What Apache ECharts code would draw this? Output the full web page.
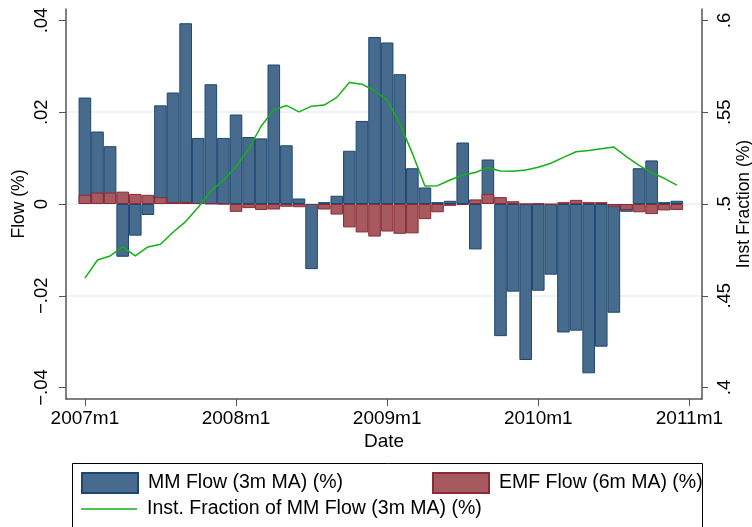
<!DOCTYPE html>
<html><head><meta charset="utf-8">
<script src="https://cdn.jsdelivr.net/npm/echarts@6/dist/echarts.min.js"></script>
<style>html,body{margin:0;padding:0;background:#fff}#c{width:752px;height:527px}</style>
</head><body><div id="c"></div>
<script>
// month index 0 = 2007m1 ... 47 = 2010m12
const monthIndex = [0,1,2,3,4,5,6,7,8,9,10,11,12,13,14,15,16,17,18,19,20,21,22,23,
  24,25,26,27,28,29,30,31,32,33,34,35,36,37,38,39,40,41,42,43,44,45,46,47];
const mmFlow = [0.0232,0.0158,0.0126,-0.0115,-0.0069,-0.0024,0.0215,0.0243,0.0394,0.0144,0.0261,0.0144,
  0.0195,0.0146,0.0143,0.0304,0.0128,0.0012,-0.0142,0.0004,0.0018,0.0116,0.0181,0.0364,
  0.0352,0.0283,0.0078,0.0036,0.0004,0.0007,0.0134,-0.0099,0.0097,-0.0288,-0.0191,-0.0340,
  -0.0189,-0.0154,-0.0280,-0.0276,-0.0369,-0.0311,-0.0237,-0.0017,0.0078,0.0095,0.0004,0.0007];
const emfFlow = [0.0020,0.0025,0.0025,0.0027,0.0022,0.0020,0.0015,0.0004,0.0004,0.0002,0.0001,0.0000,
  -0.0017,-0.0009,-0.0013,-0.0012,-0.0006,-0.0007,-0.0002,-0.0012,-0.0023,-0.0051,-0.0062,-0.0071,
  -0.0060,-0.0065,-0.0064,-0.0033,-0.0018,-0.0004,-0.0002,0.0010,0.0022,0.0015,0.0006,0.0000,
  0.0001,-0.0001,0.0004,0.0009,0.0004,0.0004,-0.0006,-0.0013,-0.0018,-0.0022,-0.0014,-0.0013];
const instFrac = [0.4596,0.4695,0.4717,0.4766,0.4717,0.4766,0.4781,0.4846,0.4904,0.4982,0.5071,0.5131,
  0.5203,0.5299,0.5425,0.5512,0.5537,0.5502,0.5533,0.5539,0.5581,0.5662,0.5653,0.5617,
  0.5566,0.5439,0.5276,0.5098,0.5100,0.5131,0.5158,0.5172,0.5198,0.5180,0.5178,0.5185,
  0.5200,0.5222,0.5254,0.5285,0.5292,0.5301,0.5310,0.5258,0.5211,0.5171,0.5140,0.5103];
const xTickValues = [0,12,24,36,48];
const xTickLabels = ['2007m1','2008m1','2009m1','2010m1','2011m1'];
const leftTicks = [-0.04,-0.02,0,0.02,0.04];
const leftTickLabels = ['\u2212.04','\u2212.02','0','.02','.04'];
const rightTicks = [0.4,0.45,0.5,0.55,0.6];
const rightTickLabels = ['.4','.45','.5','.55','.6'];
const names = ['MM Flow (3m MA) (%)','EMF Flow (6m MA) (%)','Inst. Fraction of MM Flow (3m MA) (%)'];

const FONT = 'Liberation Sans';
const chart = echarts.init(document.getElementById('c'), null, {renderer:'canvas'});
const pair = arr => monthIndex.map((m,i)=>[m,arr[i]]);
const lblIdx = (vals, labels) => v => { const i = vals.findIndex(t=>Math.abs(t-v)<1e-9); return i>=0?labels[i]:''; };
const axisCol = '#555';
const legTxt = {fontSize:19.5,color:'#000',fontFamily:FONT,padding:[0,0,0,5]};
chart.setOption({
  animation:false,
  backgroundColor:'#fff',
  textStyle:{fontFamily:FONT},
  grid:{left:66,right:50,top:9,bottom:128,outerBoundsMode:'none',containLabel:false},
  legend:[
    {data:[{name:names[0],icon:'rect'}],left:76,top:467,itemWidth:56,itemHeight:20,textStyle:legTxt},
    {data:[{name:names[1],icon:'rect'}],left:427,top:467,itemWidth:56,itemHeight:20,textStyle:legTxt},
    {data:[{name:names[2],icon:'path://M0,0 L56,0 L56,1.5 L0,1.5 Z'}],left:76,top:494,itemWidth:56,itemHeight:20,
     itemStyle:{borderWidth:0},textStyle:legTxt}
  ],
  graphic:[{type:'rect',shape:{x:72.5,y:463.5,width:630,height:80},style:{fill:'none',stroke:'#000',lineWidth:1}}],
  xAxis:{type:'value',min:-1.5,max:49,
    name:'Date',nameLocation:'middle',nameGap:33,nameMoveOverlap:false,nameTextStyle:{fontSize:19,color:'#000',fontFamily:FONT},
    axisLine:{show:true,onZero:false,lineStyle:{color:axisCol,width:1.5}},
    axisTick:{show:true,length:7,customValues:xTickValues,lineStyle:{color:axisCol}},
    axisLabel:{customValues:xTickValues,formatter:lblIdx(xTickValues,xTickLabels),fontSize:19,color:'#000',margin:10,fontFamily:FONT},
    splitLine:{show:false}},
  yAxis:[
    {type:'value',min:-0.0425,max:0.0425,position:'left',
     name:'Flow (%)',nameLocation:'middle',nameGap:38,nameMoveOverlap:false,nameTextStyle:{fontSize:17.5,color:'#000',fontFamily:FONT},
     axisLine:{show:true,onZero:false,lineStyle:{color:axisCol,width:1.5}},
     axisTick:{show:true,length:7,customValues:leftTicks,lineStyle:{color:axisCol}},
     axisLabel:{customValues:leftTicks,rotate:90,formatter:lblIdx(leftTicks,leftTickLabels),fontSize:18.5,color:'#000',margin:15,fontFamily:FONT},
     splitLine:{show:true,lineStyle:{color:['transparent','#e8eff2','#e8eff2','#e8eff2','transparent'],width:1.5}}},
    {type:'value',min:0.39375,max:0.60625,position:'right',
     name:'Inst Fraction (%)',nameLocation:'middle',nameGap:33,nameMoveOverlap:false,nameTextStyle:{fontSize:17.5,color:'#000',fontFamily:FONT},
     axisLine:{show:true,onZero:false,lineStyle:{color:axisCol,width:1.5}},
     axisTick:{show:true,length:6,customValues:rightTicks,lineStyle:{color:axisCol}},
     axisLabel:{customValues:rightTicks,rotate:90,formatter:lblIdx(rightTicks,rightTickLabels),fontSize:18.5,color:'#000',margin:13,fontFamily:FONT},
     splitLine:{show:false}}
  ],
  series:[
    {name:names[0],type:'bar',data:pair(mmFlow),barWidth:12.6,barGap:'-100%',
     itemStyle:{color:'#476b8d',borderColor:'#1d4772',borderWidth:1}},
    {name:names[1],type:'bar',data:pair(emfFlow),barWidth:12.6,barGap:'-100%',
     itemStyle:{color:'#a65a5f',borderColor:'#8c2a35',borderWidth:1}},
    {name:names[2],type:'line',yAxisIndex:1,data:pair(instFrac),symbol:'none',
     lineStyle:{color:'#14b014',width:1.5},itemStyle:{color:'#14b014'}}
  ]
});
</script></body></html>
